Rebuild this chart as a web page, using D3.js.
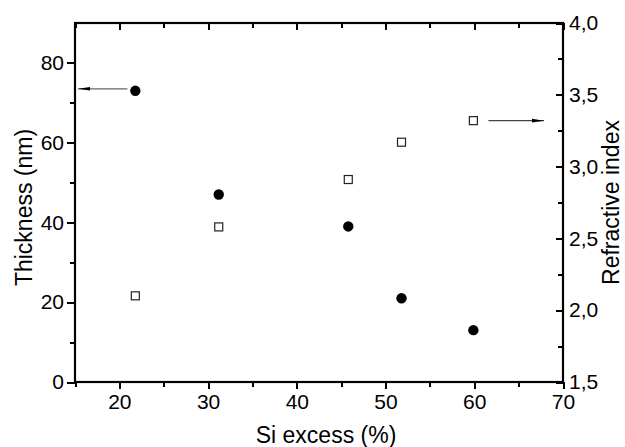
<!DOCTYPE html>
<html>
<head>
<meta charset="utf-8">
<script src="https://cdn.jsdelivr.net/npm/d3@7"></script>
<style>
  html, body { margin: 0; padding: 0; background: #fff; }
  svg { display: block; }
  text { font-family: "Liberation Sans", Arial, sans-serif; fill: #000; }
</style>
</head>
<body>
<svg id="chart" width="625" height="447"></svg>
<script>
// Si excess (%) of each sample
const siExcess = [21.8, 31.2, 45.8, 51.8, 59.9];
// Film thickness (nm), left axis
const thickness = [73, 47, 39, 21, 13];
// Refractive index, right axis
const refractiveIndex = [2.10, 2.58, 2.91, 3.17, 3.32];

const xTicks = [20, 30, 40, 50, 60, 70];
const xMinorTicks = [15, 25, 35, 45, 55, 65];
const leftTicks = [0, 20, 40, 60, 80];
const leftMinorTicks = [10, 30, 50, 70];
const rightTicks = [1.5, 2.0, 2.5, 3.0, 3.5, 4.0];
const rightMinorTicks = [1.75, 2.25, 2.75, 3.25, 3.75];

const svg = d3.select("#chart");
const L = 75, R = 563, T = 23, B = 382;

const x = d3.scaleLinear().domain([15, 70]).range([L, R]);
const yL = d3.scaleLinear().domain([0, 90]).range([B, T]);
const yR = d3.scaleLinear().domain([1.5, 4.0]).range([B, T]);

const commaFmt = d => d3.format(".1f")(d).replace(".", ",");
const tickFont = "21px";

function styleAxis(g) {
  g.select(".domain").remove();
  g.selectAll(".tick line")
    .attr("stroke", "#000")
    .style("stroke", "#000")
    .style("stroke-width", "2px")
    .style("shape-rendering", "crispEdges");
  g.selectAll(".tick text").style("font-size", tickFont).attr("fill", "#000");
}

// bottom axis: major with labels, minor without
svg.append("g").attr("transform", `translate(0,${B})`)
  .call(d3.axisBottom(x).tickValues(xTicks).tickSize(7).tickPadding(5).tickFormat(d3.format("d")))
  .call(styleAxis);
svg.append("g").attr("transform", `translate(0,${B})`)
  .call(d3.axisBottom(x).tickValues(xMinorTicks).tickSize(5).tickFormat(""))
  .call(styleAxis);

// top axis: ticks point down into the plot
svg.append("g").attr("transform", `translate(0,${T})`)
  .call(d3.axisBottom(x).tickValues(xTicks).tickSize(7).tickFormat(""))
  .call(styleAxis);
svg.append("g").attr("transform", `translate(0,${T})`)
  .call(d3.axisBottom(x).tickValues(xMinorTicks).tickSize(5).tickFormat(""))
  .call(styleAxis);

// left axis
svg.append("g").attr("transform", `translate(${L},0)`)
  .call(d3.axisLeft(yL).tickValues(leftTicks).tickSize(8).tickPadding(3).tickFormat(d3.format("d")))
  .call(styleAxis);
svg.append("g").attr("transform", `translate(${L},0)`)
  .call(d3.axisLeft(yL).tickValues(leftMinorTicks).tickSize(5).tickFormat(""))
  .call(styleAxis);

// right axis: ticks point into the plot, labels outside
const rightMajor = svg.append("g").attr("transform", `translate(${R},0)`)
  .call(d3.axisRight(yR).tickValues(rightTicks).tickSize(-7).tickPadding(0).tickFormat(commaFmt))
  .call(styleAxis);
rightMajor.selectAll(".tick text").attr("x", 6);
svg.append("g").attr("transform", `translate(${R},0)`)
  .call(d3.axisRight(yR).tickValues(rightMinorTicks).tickSize(-5).tickFormat(""))
  .call(styleAxis);

// frame
svg.append("rect")
  .attr("x", L).attr("y", T).attr("width", R - L).attr("height", B - T)
  .attr("fill", "none").attr("stroke", "#000").attr("stroke-width", 2.2);

// axis titles
svg.append("text")
  .attr("x", (L + R) / 2 + 7).attr("y", 443)
  .attr("text-anchor", "middle").style("font-size", "23px")
  .text("Si excess (%)");
svg.append("text")
  .attr("transform", `translate(32,${(T + B) / 2 + 5}) rotate(-90)`)
  .attr("text-anchor", "middle").style("font-size", "23px")
  .text("Thickness (nm)");
svg.append("text")
  .attr("transform", `translate(619,${(T + B) / 2}) rotate(-90)`)
  .attr("text-anchor", "middle").style("font-size", "23px")
  .text("Refractive index");

// arrow markers
const defs = svg.append("defs");
defs.append("marker")
  .attr("id", "head").attr("viewBox", "0 0 12 6")
  .attr("refX", 12).attr("refY", 3)
  .attr("markerWidth", 12).attr("markerHeight", 6)
  .attr("markerUnits", "userSpaceOnUse")
  .attr("orient", "auto")
  .append("path").attr("d", "M0,1.2 L12,3 L0,4.8 Z").attr("fill", "#000");

// thickness series: filled circles
svg.append("g").selectAll("circle")
  .data(siExcess.map((s, i) => [s, thickness[i]]))
  .join("circle")
  .attr("cx", d => x(d[0])).attr("cy", d => yL(d[1]))
  .attr("r", 5.2).attr("fill", "#000");

// refractive index series: open squares
const sq = 8;
svg.append("g").selectAll("rect")
  .data(siExcess.map((s, i) => [s, refractiveIndex[i]]))
  .join("rect")
  .attr("x", d => x(d[0]) - sq / 2).attr("y", d => yR(d[1]) - sq / 2)
  .attr("width", sq).attr("height", sq)
  .attr("fill", "#fff").attr("stroke", "#222").attr("stroke-width", 1.2);

// arrows pointing to each series' axis
const first = 0, last = siExcess.length - 1;
svg.append("line")
  .attr("x1", x(siExcess[first]) - 8).attr("y1", yL(thickness[first]) - 2)
  .attr("x2", L + 3).attr("y2", yL(thickness[first]) - 2)
  .attr("stroke", "#666").attr("stroke-width", 1.3)
  .attr("marker-end", "url(#head)");
svg.append("line")
  .attr("x1", x(siExcess[last]) + 15).attr("y1", yR(refractiveIndex[last]))
  .attr("x2", 544).attr("y2", yR(refractiveIndex[last]))
  .attr("stroke", "#444").attr("stroke-width", 1.3)
  .attr("marker-end", "url(#head)");
</script>
</body>
</html>
